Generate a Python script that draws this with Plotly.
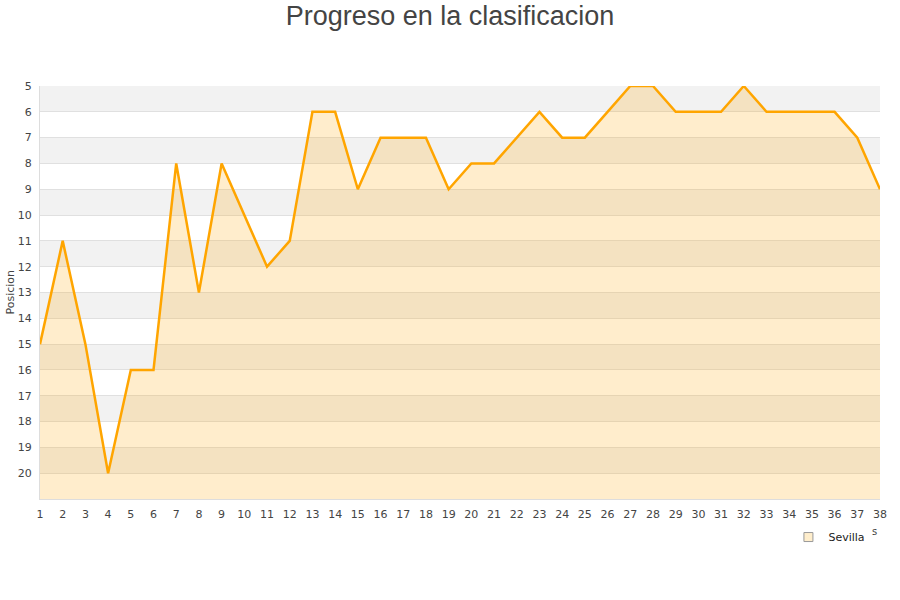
import plotly.graph_objects as go

jornadas = list(range(1, 39))
posicion = [15, 11, 15, 20, 16, 16, 8, 13, 8, 10, 12, 11, 6, 6, 9, 7, 7, 7, 9, 8,
            8, 7, 6, 7, 7, 6, 5, 5, 6, 6, 6, 5, 6, 6, 6, 6, 7, 9]
y_ticks = list(range(5, 21))
equipo = "Sevilla"

Y_TOP, Y_BOTTOM = 5, 21

fig = go.Figure()
fig.add_trace(go.Scatter(x=jornadas, y=[Y_BOTTOM] * len(jornadas), mode="lines",
                         line=dict(width=0), showlegend=False, hoverinfo="skip"))
fig.add_trace(go.Scatter(x=jornadas, y=posicion, mode="lines", fill="tonexty",
                         fillcolor="rgba(255,165,0,0.2)",
                         line=dict(color="#ffa500", width=2.5),
                         showlegend=False, name=equipo))
fig.add_trace(go.Scatter(x=[None], y=[None], mode="markers", name=equipo,
                         marker=dict(symbol="square", size=9, color="#ffeecc",
                                     line=dict(color="#999999", width=1))))

shapes = []
for v in range(Y_TOP, Y_BOTTOM, 2):
    shapes.append(dict(type="rect", xref="paper", yref="y", x0=0, x1=1, y0=v, y1=v + 1,
                       fillcolor="#f2f2f2", line=dict(width=0), layer="below"))

fig.update_layout(
    width=900, height=600,
    margin=dict(l=40, r=20, t=86, b=101, autoexpand=False),
    paper_bgcolor="white", plot_bgcolor="white",
    title=dict(text="Progreso en la clasificacion", x=0.5, xanchor="center", y=0.990, yanchor="top",
               font=dict(family="Liberation Sans, Arial", size=27, color="#444444")),
    shapes=shapes,
    xaxis=dict(range=[1, 38], tickvals=jornadas, ticktext=[str(j) for j in jornadas],
               showgrid=False, zeroline=False, showline=True, linecolor="#dddddd",
               ticks="", ticklabelstandoff=5,
               tickfont=dict(family="DejaVu Sans", size=11, color="#444444")),
    yaxis=dict(range=[Y_BOTTOM, Y_TOP], tickvals=y_ticks, ticktext=[str(t) for t in y_ticks],
               showgrid=True, gridcolor="#e0e0e0", zeroline=False, showline=True,
               linecolor="#dddddd", ticks="", ticklabelstandoff=5,
               tickfont=dict(family="DejaVu Sans", size=11, color="#444444")),
    legend=dict(x=0.9886, y=-0.057, xanchor="right", yanchor="top", bgcolor="rgba(255,255,255,0)",
                font=dict(family="DejaVu Sans", size=11, color="#222222")),
    annotations=[
        dict(text="Posicion", xref="paper", yref="paper", x=-0.0357, y=0.5, textangle=-90,
             xanchor="center", yanchor="middle", showarrow=False,
             font=dict(family="DejaVu Sans", size=11, color="#444444")),
        dict(text="s", xref="paper", yref="paper", x=0.994, y=-0.0795,
             xanchor="center", yanchor="middle", showarrow=False,
             font=dict(family="DejaVu Sans", size=10, color="#444444")),
    ],
)

fig.write_html("out.html", config={"displayModeBar": False},
               post_script="document.body.style.margin='0';")
